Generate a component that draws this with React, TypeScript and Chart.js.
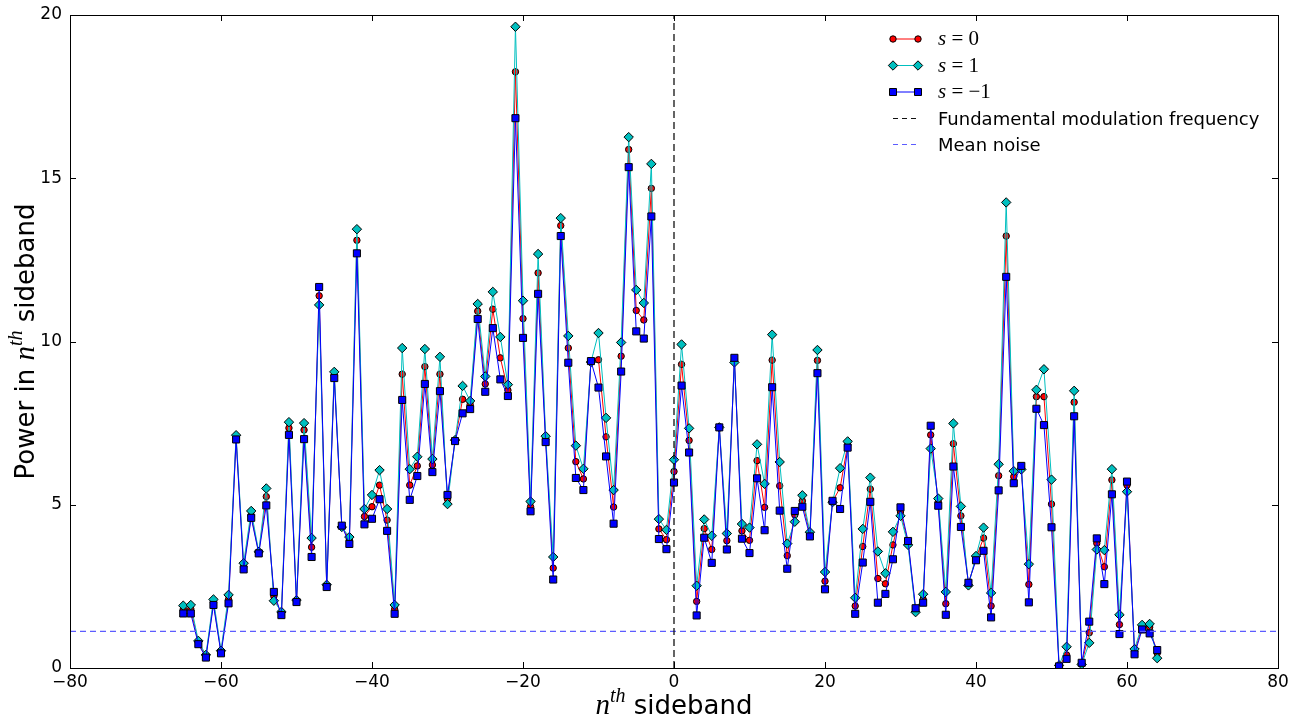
import React, { useEffect, useRef } from 'react';
import { Chart, registerables } from 'chart.js';

Chart.register(...registerables);

// n-th sideband index
const sidebands = [
  -65, -64, -63, -62, -61, -60, -59, -58, -57, -56, -55, -54, -53, -52, -51, -50, -49, -48, -47, -46,
  -45, -44, -43, -42, -41, -40, -39, -38, -37, -36, -35, -34, -33, -32, -31, -30, -29, -28, -27, -26,
  -25, -24, -23, -22, -21, -20, -19, -18, -17, -16, -15, -14, -13, -12, -11, -10, -9, -8, -7, -6,
  -5, -4, -3, -2, -1, 0, 1, 2, 3, 4, 5, 6, 7, 8, 9, 10, 11, 12, 13, 14,
  15, 16, 17, 18, 19, 20, 21, 22, 23, 24, 25, 26, 27, 28, 29, 30, 31, 32, 33, 34,
  35, 36, 37, 38, 39, 40, 41, 42, 43, 44, 45, 46, 47, 48, 49, 50, 51, 52, 53, 54,
  55, 56, 57, 58, 59, 60, 61, 62, 63, 64,
];

// s = 0
const powerS0 = [
  1.80, 1.81, 0.78, 0.36, 2.00, 0.49, 2.10, 7.05, 3.10, 4.67, 3.53, 5.25, 2.20, 1.66, 7.35, 2.05, 7.29, 3.70, 11.40, 2.52,
  8.97, 4.34, 3.92, 13.10, 4.64, 4.94, 5.60, 4.53, 1.80, 9.00, 5.60, 6.19, 9.23, 6.22, 9.00, 5.17, 6.97, 8.23, 8.07, 10.93,
  8.70, 10.99, 9.50, 8.51, 18.26, 10.70, 4.94, 12.10, 7.00, 3.06, 13.55, 9.80, 6.32, 5.79, 9.39, 9.44, 7.08, 4.93, 9.55, 15.88,
  10.95, 10.66, 14.69, 4.26, 3.93, 6.02, 9.30, 6.97, 2.04, 4.27, 3.63, 7.37, 3.90, 9.43, 4.20, 3.91, 6.35, 4.92, 9.43, 5.58,
  3.44, 4.69, 5.12, 4.10, 9.42, 2.66, 5.10, 5.52, 6.83, 1.90, 3.72, 5.48, 2.74, 2.58, 3.77, 4.78, 3.83, 1.78, 2.10, 7.14,
  5.09, 1.97, 6.87, 4.66, 2.57, 3.37, 3.98, 1.90, 5.89, 13.23, 5.86, 6.12, 2.56, 8.31, 8.31, 5.02, 0.06, 0.40, 8.14, 0.13,
  1.08, 3.82, 3.10, 5.76, 1.33, 5.60, 0.50, 1.25, 1.25, 0.45,
];

// s = 1
const powerS1 = [
  1.91, 1.93, 0.83, 0.40, 2.10, 0.53, 2.24, 7.13, 3.21, 4.81, 3.56, 5.50, 2.06, 1.72, 7.53, 2.08, 7.50, 3.98, 11.12, 2.55,
  9.07, 4.32, 4.01, 13.44, 4.87, 5.30, 6.06, 4.87, 1.93, 9.80, 6.09, 6.47, 9.77, 6.40, 9.53, 5.02, 6.98, 8.64, 8.18, 11.15,
  8.93, 11.52, 10.14, 8.68, 19.64, 11.25, 5.10, 12.68, 7.10, 3.40, 13.78, 10.17, 6.81, 6.10, 9.37, 10.26, 7.66, 5.45, 9.97, 16.26,
  11.58, 11.18, 15.44, 4.56, 4.23, 6.38, 9.91, 7.34, 2.52, 4.55, 4.05, 7.37, 4.12, 9.36, 4.41, 4.30, 6.85, 5.64, 10.21, 6.31,
  3.81, 4.48, 5.29, 4.16, 9.74, 2.94, 5.08, 6.12, 6.94, 2.15, 4.26, 5.83, 3.57, 2.90, 4.17, 4.66, 3.77, 1.71, 2.26, 6.72,
  5.19, 2.33, 7.49, 4.95, 2.53, 3.43, 4.30, 2.30, 6.24, 14.26, 6.03, 6.08, 3.18, 8.52, 9.15, 5.77, 0.08, 0.65, 8.49, 0.11,
  0.77, 3.63, 3.61, 6.09, 1.63, 5.40, 0.58, 1.32, 1.35, 0.30,
];

// s = -1
const powerSm1 = [
  1.67, 1.67, 0.73, 0.32, 1.93, 0.45, 1.98, 7.00, 3.02, 4.60, 3.51, 4.98, 2.33, 1.62, 7.14, 2.02, 7.01, 3.40, 11.67, 2.48,
  8.88, 4.36, 3.80, 12.70, 4.40, 4.57, 5.17, 4.20, 1.66, 8.21, 5.15, 5.88, 8.70, 6.00, 8.48, 5.30, 6.95, 7.80, 7.93, 10.69,
  8.46, 10.41, 8.84, 8.33, 16.84, 10.11, 4.80, 11.46, 6.92, 2.71, 13.23, 9.35, 5.82, 5.45, 9.40, 8.59, 6.48, 4.42, 9.08, 15.34,
  10.31, 10.09, 13.83, 3.95, 3.64, 5.68, 8.65, 6.60, 1.61, 3.99, 3.22, 7.37, 3.63, 9.50, 3.96, 3.52, 5.81, 4.22, 8.60, 4.82,
  3.04, 4.81, 4.94, 4.03, 9.03, 2.41, 5.12, 4.87, 6.75, 1.66, 3.23, 5.09, 2.00, 2.27, 3.33, 4.92, 3.89, 1.83, 2.00, 7.42,
  4.97, 1.63, 6.17, 4.32, 2.61, 3.30, 3.59, 1.55, 5.44, 11.98, 5.66, 6.19, 2.01, 7.94, 7.44, 4.31, 0.05, 0.28, 7.71, 0.16,
  1.42, 3.97, 2.57, 5.32, 1.04, 5.71, 0.42, 1.18, 1.06, 0.55,
];

const fundamentalFrequency = 0;
const meanNoise = 1.12;

const xTicks = [-80, -60, -40, -20, 0, 20, 40, 60, 80];
const yTicks = [0, 5, 10, 15, 20];

const RED = '#ff0000';
const CYAN = '#00bfbf';
const BLUE = '#0000ff';
const FUND_COLOR = '#111111';
const NOISE_COLOR = '#5c5cff';

type Part = { text: string; font: string; dy: number };

function drawParts(ctx: CanvasRenderingContext2D, parts: Part[], x: number, y: number, align: 'center' | 'left') {
  let total = 0;
  const widths = parts.map((p) => {
    ctx.font = p.font;
    const w = ctx.measureText(p.text).width;
    total += w;
    return w;
  });
  let cx = align === 'center' ? x - total / 2 : x;
  ctx.textAlign = 'left';
  ctx.textBaseline = 'alphabetic';
  parts.forEach((p, i) => {
    ctx.font = p.font;
    ctx.fillText(p.text, cx, y + p.dy);
    cx += widths[i];
  });
}

const SANS = '"DejaVu Sans"';
const SERIF = '"Liberation Serif"';

const titleParts = (prefix: string): Part[] => {
  const parts: Part[] = [];
  if (prefix) parts.push({ text: prefix, font: `26px ${SANS}`, dy: 0 });
  parts.push({ text: 'n', font: `italic 29px ${SERIF}`, dy: 0 });
  parts.push({ text: 'th', font: `italic 20px ${SERIF}`, dy: -12 });
  parts.push({ text: ' sideband', font: `26px ${SANS}`, dy: 0 });
  return parts;
};

function drawMarker(ctx: CanvasRenderingContext2D, kind: string, x: number, y: number, fill: string) {
  ctx.beginPath();
  if (kind === 'circle') {
    ctx.arc(x, y, 3.2, 0, Math.PI * 2);
  } else if (kind === 'diamond') {
    ctx.moveTo(x, y - 4.7);
    ctx.lineTo(x + 4.7, y);
    ctx.lineTo(x, y + 4.7);
    ctx.lineTo(x - 4.7, y);
    ctx.closePath();
  } else {
    ctx.rect(x - 3.5, y - 3.5, 7, 7);
  }
  ctx.fillStyle = fill;
  ctx.fill();
  ctx.strokeStyle = '#000';
  ctx.lineWidth = 1;
  ctx.stroke();
}

const framePlugin = {
  id: 'frame',
  afterDraw(chart: any) {
    const { ctx, chartArea: a, scales } = chart;
    const xs = scales.x;
    const ys = scales.y;
    ctx.save();
    ctx.strokeStyle = '#000';
    ctx.lineWidth = 1;
    ctx.setLineDash([]);
    ctx.strokeRect(Math.round(a.left) + 0.5, Math.round(a.top) + 0.5, Math.round(a.right - a.left), Math.round(a.bottom - a.top));
    const tl = 6;
    ctx.beginPath();
    xTicks.forEach((v) => {
      const px = Math.round(xs.getPixelForValue(v)) + 0.5;
      ctx.moveTo(px, a.bottom);
      ctx.lineTo(px, a.bottom - tl);
      ctx.moveTo(px, a.top);
      ctx.lineTo(px, a.top + tl);
    });
    yTicks.forEach((v) => {
      const py = Math.round(ys.getPixelForValue(v)) + 0.5;
      ctx.moveTo(a.left, py);
      ctx.lineTo(a.left + tl, py);
      ctx.moveTo(a.right, py);
      ctx.lineTo(a.right - tl, py);
    });
    ctx.stroke();

    // axis titles
    ctx.fillStyle = '#000';
    drawParts(ctx, titleParts(''), (a.left + a.right) / 2, 714, 'center');
    ctx.save();
    ctx.translate(34, (a.top + a.bottom) / 2);
    ctx.rotate(-Math.PI / 2);
    drawParts(ctx, titleParts('Power in '), 0, 0, 'center');
    ctx.restore();

    // legend
    const lx0 = 893;
    const lx1 = 918;
    const tx = 938;
    const rows = [39, 65.5, 92, 118, 144];
    const series = [
      { color: RED, marker: 'circle', label: '0' },
      { color: CYAN, marker: 'diamond', label: '1' },
      { color: BLUE, marker: 'square', label: '\u22121' },
    ];
    series.forEach((s, i) => {
      const y = rows[i];
      ctx.beginPath();
      ctx.strokeStyle = s.color;
      ctx.lineWidth = 1;
      ctx.moveTo(lx0, y);
      ctx.lineTo(lx1, y);
      ctx.stroke();
      drawMarker(ctx, s.marker, lx0, y, s.color);
      drawMarker(ctx, s.marker, lx1, y, s.color);
      ctx.fillStyle = '#000';
      drawParts(
        ctx,
        [
          { text: 's', font: `italic 21px ${SERIF}`, dy: 0 },
          { text: ' = ' + s.label, font: `21px ${SERIF}`, dy: 0 },
        ],
        tx,
        y + 6,
        'left'
      );
    });
    const dashed = [
      { color: FUND_COLOR, label: 'Fundamental modulation frequency' },
      { color: NOISE_COLOR, label: 'Mean noise' },
    ];
    dashed.forEach((d, i) => {
      const y = rows[3 + i] + 0.5;
      ctx.beginPath();
      ctx.strokeStyle = d.color;
      ctx.setLineDash([5, 4]);
      ctx.moveTo(lx0, y);
      ctx.lineTo(lx1 + 2, y);
      ctx.stroke();
      ctx.setLineDash([]);
      ctx.fillStyle = '#000';
      drawParts(ctx, [{ text: d.label, font: `18px ${SANS}`, dy: 0 }], tx, rows[3 + i] + 6.5, 'left');
    });
    ctx.restore();
  },
};

const fmt = (v: number) => (v < 0 ? '\u2212' + Math.abs(v) : String(v));

export default function App() {
  const ref = useRef<HTMLCanvasElement | null>(null);
  useEffect(() => {
    if (!ref.current) return;
    const pts = (vals: number[]) => sidebands.map((n, i) => ({ x: n, y: vals[i] }));
    const chart = new Chart(ref.current, {
      type: 'line',
      data: {
        datasets: [
          {
            label: 'Fundamental modulation frequency',
            data: [
              { x: fundamentalFrequency, y: yTicks[0] },
              { x: fundamentalFrequency, y: yTicks[yTicks.length - 1] },
            ],
            borderColor: FUND_COLOR,
            borderWidth: 1.3,
            borderDash: [7, 4],
            pointRadius: 0,
            order: 0,
          },
          {
            label: 'Mean noise',
            data: [
              { x: xTicks[0], y: meanNoise },
              { x: xTicks[xTicks.length - 1], y: meanNoise },
            ],
            borderColor: NOISE_COLOR,
            borderWidth: 1.2,
            borderDash: [6, 4],
            pointRadius: 0,
            order: 0,
          },
          {
            label: 's=-1',
            data: pts(powerSm1),
            borderColor: BLUE,
            backgroundColor: BLUE,
            borderWidth: 1,
            pointStyle: 'rect',
            pointRadius: 5,
            pointBackgroundColor: BLUE,
            pointBorderColor: '#000',
            pointBorderWidth: 1,
            order: 1,
          },
          {
            label: 's=1',
            data: pts(powerS1),
            borderColor: CYAN,
            backgroundColor: CYAN,
            borderWidth: 1,
            pointStyle: 'rectRot',
            pointRadius: 4.7,
            pointBackgroundColor: CYAN,
            pointBorderColor: '#000',
            pointBorderWidth: 1,
            order: 2,
          },
          {
            label: 's=0',
            data: pts(powerS0),
            borderColor: RED,
            backgroundColor: RED,
            borderWidth: 1,
            pointStyle: 'circle',
            pointRadius: 3.2,
            pointBackgroundColor: RED,
            pointBorderColor: '#000',
            pointBorderWidth: 1,
            order: 3,
          },
        ],
      },
      options: {
        responsive: false,
        animation: false,
        devicePixelRatio: 1,
        layout: { padding: { top: 15, right: 24, left: 0, bottom: 0 } },
        plugins: { legend: { display: false }, tooltip: { enabled: false } },
        elements: { line: { tension: 0 } },
        scales: {
          x: {
            type: 'linear',
            min: xTicks[0],
            max: xTicks[xTicks.length - 1],
            grid: { display: false, drawTicks: false },
            border: { display: false },
            afterBuildTicks: (s: any) => {
              s.ticks = xTicks.map((v) => ({ value: v }));
            },
            afterFit: (s: any) => {
              s.height = 54;
              s.paddingLeft = 0;
              s.paddingRight = 0;
            },
            ticks: {
              color: '#000',
              font: { family: 'DejaVu Sans', size: 17 },
              padding: 4,
              maxRotation: 0,
              callback: (v: any) => fmt(Number(v)),
            },
          },
          y: {
            type: 'linear',
            min: yTicks[0],
            max: yTicks[yTicks.length - 1],
            grid: { display: false, drawTicks: false },
            border: { display: false },
            afterBuildTicks: (s: any) => {
              s.ticks = yTicks.map((v) => ({ value: v }));
            },
            afterFit: (s: any) => {
              s.width = 70;
              s.paddingTop = 0;
              s.paddingBottom = 0;
            },
            ticks: {
              color: '#000',
              font: { family: 'DejaVu Sans', size: 17 },
              padding: 8,
              callback: (v: any) => fmt(Number(v)),
            },
          },
        },
      },
      plugins: [framePlugin],
    } as any);
    return () => chart.destroy();
  }, []);
  return (
    <div style={{ position: 'absolute', left: 0, top: 0, width: 1302, height: 722, background: '#fff' }}>
      <canvas ref={ref} width={1302} height={722} style={{ width: 1302, height: 722 }} />
    </div>
  );
}
